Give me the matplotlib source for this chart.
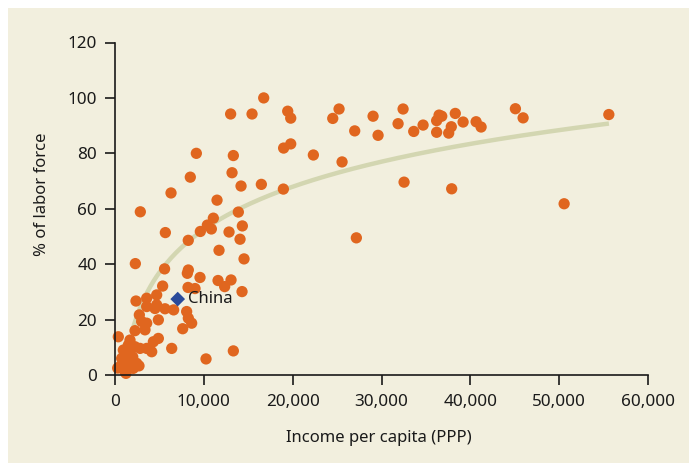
import numpy as np
import matplotlib
matplotlib.use("Agg")
import matplotlib.pyplot as plt
from matplotlib.ticker import FuncFormatter

plt.rcParams['font.family'] = ['Noto Sans', 'DejaVu Sans']

# Income per capita (PPP) for each country
income = [
    16740, 13017, 15426, 19443, 19781, 25222, 24512, 29051, 32429, 31866, 29614,
    26985, 33628, 34681, 36207, 36482, 36782, 36207, 37563, 37856, 38306, 39186,
    40650, 41212, 45074, 45940, 55591,
    18982, 19781, 22330, 25560, 32541, 37901, 50558, 27170,
    9157, 13322, 8477, 13175, 14188, 16474, 18953, 6306, 2850,
    11485, 13884, 11070, 10396, 10846, 9607, 12836, 14335, 14075, 8247, 5668,
    11710, 14525,
    2290, 5580, 8255, 8143, 9570, 11600, 13062, 12345, 14300, 8220, 9008, 5363,
    2364, 3566, 4692, 4692, 3566, 5630, 2740, 4880, 3566, 8066, 8255, 8630, 7620,
    3378, 2252, 4880, 4317, 6384, 3566, 2815, 4132, 10247, 13322, 6600, 3000, 4501,
    372, 937, 1501, 1689, 2252, 751, 1689, 1501, 2440, 563, 300, 1126, 2064, 1239,
    2700, 1000, 2000,
]
# % of labor force
labor = [
    100.0, 94.2, 94.2, 95.2, 92.7, 96.0, 92.6, 93.4, 96.0, 90.7, 86.5,
    88.1, 87.9, 90.2, 91.8, 93.8, 93.4, 87.6, 87.3, 89.6, 94.4, 91.3,
    91.4, 89.5, 96.1, 92.8, 94.0,
    81.9, 83.4, 79.4, 76.9, 69.6, 67.2, 61.8, 49.5,
    80.0, 79.2, 71.4, 73.0, 68.2, 68.8, 67.1, 65.7, 58.9,
    63.1, 58.8, 56.6, 54.1, 52.7, 51.8, 51.6, 53.8, 49.0, 48.6, 51.4,
    45.0, 41.9,
    40.2, 38.3, 37.9, 36.7, 35.2, 34.1, 34.3, 31.9, 30.1, 31.6, 31.2, 32.1,
    26.7, 27.7, 28.9, 25.3, 24.7, 23.9, 21.7, 19.9, 18.7, 22.9, 20.5, 18.7, 16.7,
    16.3, 16.0, 13.2, 12.0, 9.6, 9.6, 9.6, 8.4, 5.8, 8.7, 23.5, 19.3, 24.0,
    13.8, 9.0, 10.8, 12.6, 10.2, 6.0, 7.2, 4.8, 4.2, 3.0, 2.5, 1.2, 2.4, 0.6,
    3.3, 4.0, 6.5,
]

china_income = [7058]
china_labor = [27.4]
china_label = "China"

# logarithmic trend line: y = a + b*ln(x)
trend_a = -152.9
trend_b = 22.3
trend_range = (2000, 55600)

xticks = [0, 10000, 20000, 30000, 40000, 50000, 60000]
yticks = [0, 20, 40, 60, 80, 100, 120]

bg = '#F2EFDE'
orange = '#E0661F'
blue = '#2A4A9A'
curve_col = '#D3D6B1'
ink = '#1a1a1a'

fig = plt.figure(figsize=(6.89, 4.63), dpi=100)
fig.patch.set_facecolor('white')
panel = plt.Rectangle((8 / 689, 0.5 / 463), 1, (463 - 8.5) / 463,
                      transform=fig.transFigure, facecolor=bg,
                      edgecolor='none', zorder=-10)
fig.add_artist(panel)

ax = fig.add_axes([115 / 689, 1 - 375 / 463, 533 / 689, 332.5 / 463])
ax.set_facecolor('none')
ax.set_zorder(5)

xs = np.linspace(trend_range[0], trend_range[1], 300)
ax.plot(xs, trend_a + trend_b * np.log(xs), color=curve_col, lw=3.2,
        solid_capstyle='butt', zorder=1)

ax.scatter(income, labor, s=66, color=orange, edgecolors='none', zorder=2,
           clip_on=False)
ax.scatter(china_income, china_labor, s=56, marker='D', color=blue,
           edgecolors='none', zorder=3)
ax.text(china_income[0] + 1200, china_labor[0], china_label, fontsize=12,
        va='center', ha='left', color=ink, zorder=4)

ax.set_xlim(0, 60000)
ax.set_ylim(0, 120)
ax.set_xticks(xticks)
ax.set_yticks(yticks)
ax.xaxis.set_major_formatter(FuncFormatter(lambda v, p: f"{int(v):,}"))

for s in ['top', 'right']:
    ax.spines[s].set_visible(False)
for s in ['left', 'bottom']:
    ax.spines[s].set_linewidth(1.2)
    ax.spines[s].set_color(ink)

ax.tick_params(axis='both', direction='out', length=7, width=1.2,
               color=ink, labelsize=12.3, labelcolor=ink)
ax.tick_params(axis='x', pad=7)
ax.tick_params(axis='y', pad=6)

ax.set_xlabel('Income per capita (PPP)', fontsize=12, color=ink)
ax.set_ylabel('% of labor force', fontsize=12, color=ink)
ax.xaxis.set_label_coords(0.495, -0.165)
ax.yaxis.set_label_coords(-0.122, 0.545)

fig.savefig('out.png', dpi=100, facecolor=fig.get_facecolor())
